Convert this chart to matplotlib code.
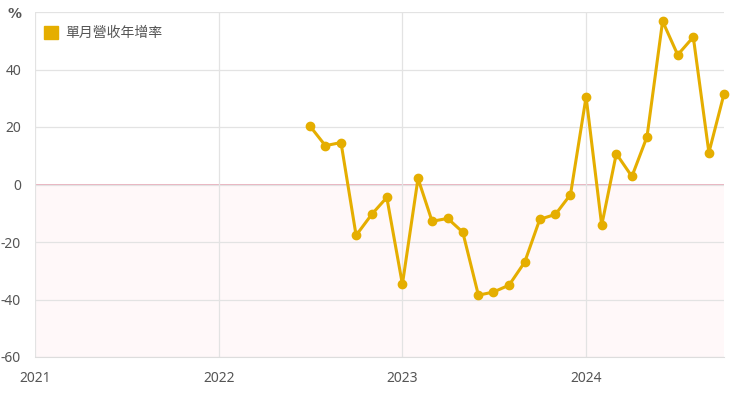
import numpy as np
import pandas as pd
import matplotlib.pyplot as plt
import matplotlib.dates as mdates
from matplotlib.patches import Patch

plt.rcParams['font.family'] = ['Noto Sans', 'Noto Sans CJK TC', 'DejaVu Sans']
plt.rcParams['font.size'] = 10

# 單月營收年增率 (%)
months = pd.date_range('2022-07-01', '2024-10-01', freq='MS')
yoy = [20.4, 13.5, 14.6, -17.7, -10.4, -4.5,
       -34.7, 2.1, -12.8, -11.8, -16.6, -38.5,
       -37.4, -35.0, -27.0, -12.1, -10.4, -3.5,
       30.5, -14.2, 10.7, 2.8, 16.6, 56.8,
       45.1, 51.3, 11.1, 31.5]
year_ticks = ['2021', '2022', '2023', '2024']
y_ticks = [-60, -40, -20, 0, 20, 40, 60]
y_labels = ['-60', '-40', '-20', '0', '20', '40', '%']

line_color = '#e5ae00'

fig = plt.figure(figsize=(7.4, 3.93), dpi=100)
ax = fig.add_axes([35/740, 36/393, 689/740, 345/393])

xmin = pd.Timestamp('2021-01-01')
xmax = pd.Timestamp('2024-10-01')
ax.set_xlim(xmin, xmax)
ax.set_ylim(-60, 60)

# 負值區域底色與零線
ax.axhspan(-60, 0, color='#fff8f9', zorder=0)
ax.axhline(0, color='#e8a3b3', lw=1.2, zorder=1)

ax.plot(months, yoy, color=line_color, lw=2.2, marker='o', ms=6,
        zorder=3, clip_on=False)

ax.set_xticks([pd.Timestamp(y + '-01-01') for y in year_ticks])
ax.xaxis.set_major_formatter(mdates.DateFormatter('%Y'))
ax.set_yticks(y_ticks)
ax.set_yticklabels(y_labels)
for lab in ax.get_yticklabels():
    if lab.get_text() == '%':
        lab.set_fontfamily('DejaVu Sans')
        lab.set_fontweight('bold')
        lab.set_color('#333333')

ax.grid(True, color='#e3e3e3', lw=0.9, zorder=0)
for s in ['top', 'right', 'left']:
    ax.spines[s].set_visible(False)
ax.spines['bottom'].set_color('#dddddd')
ax.tick_params(length=0, colors='#555555', labelsize=10)
ax.tick_params(axis='y', pad=10)
ax.tick_params(axis='x', pad=10)

ax.legend(handles=[Patch(color=line_color, label='單月營收年增率')],
          loc='upper left', bbox_to_anchor=(-0.005, 0.995), frameon=False,
          handlelength=1.0, handleheight=1.0, handletextpad=0.5,
          prop={'family': ['Noto Sans CJK TC', 'DejaVu Sans'], 'size': 10},
          labelcolor='#555555')

fig.savefig('out.png', dpi=100)
